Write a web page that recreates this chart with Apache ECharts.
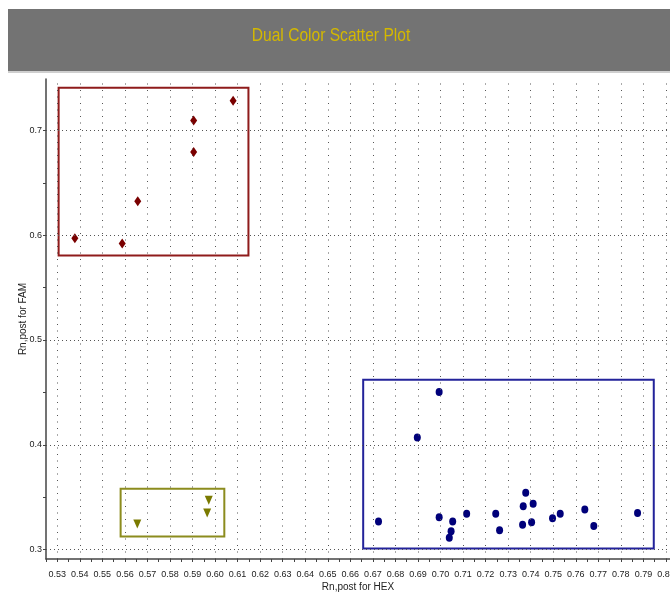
<!DOCTYPE html>
<html>
<head>
<meta charset="utf-8">
<script src="https://cdn.jsdelivr.net/npm/echarts@6/dist/echarts.min.js"></script>
<style>
  html, body { margin: 0; padding: 0; background: #ffffff; overflow: hidden; }
  #chart { width: 670px; height: 610px; }
</style>
</head>
<body>
<div id="chart"></div>
<script>
// Rn,post values for each dye pair
const famGroupHex = [0.5378, 0.5588, 0.5657, 0.5905, 0.5905, 0.6080];
const famGroupFam = [0.5971, 0.5921, 0.6324, 0.6794, 0.7095, 0.7283];

const mixGroupHex = [0.5655, 0.5965, 0.5972];
const mixGroupFam = [0.3245, 0.3350, 0.3470];

const hexGroupHex = [0.6994, 0.6897, 0.6725, 0.6994, 0.7054, 0.7047, 0.7039, 0.7116, 0.7245, 0.7262,
                     0.7378, 0.7367, 0.7364, 0.7411, 0.7404, 0.7497, 0.7531, 0.7640, 0.7680, 0.7874];
const hexGroupFam = [0.4503, 0.4070, 0.3267, 0.3308, 0.3267, 0.3175, 0.3112, 0.3341, 0.3341, 0.3184,
                     0.3541, 0.3413, 0.3236, 0.3436, 0.3260, 0.3299, 0.3341, 0.3382, 0.3226, 0.3350];

// Cluster outlines: [hexMin, famMin, hexMax, famMax]
const famCluster = [0.5306, 0.5806, 0.6148, 0.7407];
const mixCluster = [0.5581, 0.3124, 0.6041, 0.3580];
const hexCluster = [0.6657, 0.3010, 0.7946, 0.4620];

// Axis ticks and labels
const xTickLabels = ['0.53','0.54','0.55','0.56','0.57','0.58','0.59','0.60','0.61','0.62','0.63','0.64','0.65','0.66',
                     '0.67','0.68','0.69','0.70','0.71','0.72','0.73','0.74','0.75','0.76','0.77','0.78','0.79','0.80'];
const yTickLabels = ['0.3','0.4','0.5','0.6','0.7'];
const yTickMarks = [0.30, 0.35, 0.40, 0.45, 0.50, 0.55, 0.60, 0.65, 0.70];

const xRange = [0.525, 0.8018];
const yRange = [0.291, 0.749];

const xGrid = xTickLabels.map(Number);
const yGrid = yTickLabels.map(Number);
// a tick on every label and one halfway before it
const xTickMarks = xGrid.flatMap(v => [+(v - 0.005).toFixed(3), v]);

const labelFont = "'Liberation Sans', Arial, sans-serif";

function pairs(xs, ys) { return xs.map((x, i) => [x, ys[i]]); }
function outline(box, color) {
  return {
    silent: true,
    itemStyle: { color: 'rgba(0,0,0,0)', borderColor: color, borderWidth: 2 },
    label: { show: false },
    emphasis: { disabled: true },
    data: [[{ coord: [box[0], box[3]] }, { coord: [box[2], box[1]] }]]
  };
}

const chart = echarts.init(document.getElementById('chart'), null, { renderer: 'canvas' });

chart.setOption({
  animation: false,
  backgroundColor: '#ffffff',
  graphic: [
    { type: 'rect', left: 8, top: 9, shape: { width: 662, height: 62 }, style: { fill: '#737373' }, z: 0 },
    { type: 'rect', left: 8, top: 71, shape: { width: 662, height: 2 }, style: { fill: '#cfcfcf' }, z: 0 },
    {
      // narrow header caption
      type: 'text',
      x: 331,
      y: 36,
      scaleX: 0.82,
      z: 2,
      style: {
        text: 'Dual Color Scatter Plot',
        fill: '#d4b800',
        font: "19px 'Liberation Sans', Arial, sans-serif",
        align: 'center',
        verticalAlign: 'middle'
      }
    }
  ],
  grid: { left: 46, right: 0, top: 79, bottom: 51, outerBoundsMode: 'none', containLabel: false },
  xAxis: {
    type: 'value',
    min: xRange[0],
    max: xRange[1],
    name: 'Rn,post for HEX',
    nameLocation: 'middle',
    nameGap: 23,
    nameMoveOverlap: false,
    nameTextStyle: { color: '#222', fontFamily: labelFont, fontSize: 10 },
    axisLine: { show: true, lineStyle: { color: '#444', width: 1.5 } },
    axisTick: { show: true, inside: false, length: 3, customValues: xTickMarks, lineStyle: { color: '#444' } },
    axisLabel: {
      customValues: xGrid,
      formatter: v => v.toFixed(2),
      color: '#222', fontFamily: labelFont, fontSize: 9, margin: 11
    },
    splitLine: { show: false }
  },
  yAxis: {
    type: 'value',
    min: yRange[0],
    max: yRange[1],
    name: 'Rn,post for FAM',
    nameLocation: 'middle',
    nameGap: 18,
    nameMoveOverlap: false,
    nameTextStyle: { color: '#222', fontFamily: labelFont, fontSize: 10 },
    axisLine: { show: true, lineStyle: { color: '#444', width: 1.5 } },
    axisTick: { show: true, inside: false, length: 3, customValues: yTickMarks, lineStyle: { color: '#444' } },
    axisLabel: {
      customValues: yGrid,
      formatter: v => v.toFixed(1),
      color: '#222', fontFamily: labelFont, fontSize: 9, margin: 4
    },
    splitLine: { show: false }
  },
  series: [
    {
      // dotted reference grid
      type: 'scatter',
      data: [],
      silent: true,
      z: 1,
      markLine: {
        silent: true,
        symbol: 'none',
        animation: false,
        label: { show: false },
        emphasis: { disabled: true },
        data: xGrid.map(v => ({ xAxis: v, lineStyle: { color: '#555', width: 1, type: [1, 5.5] } }))
          .concat(yGrid.map(v => ({ yAxis: v, lineStyle: { color: '#555', width: 1, type: [1, 3] } })))
      }
    },
    {
      name: 'FAM',
      type: 'scatter',
      data: pairs(famGroupHex, famGroupFam),
      symbol: 'diamond',
      symbolSize: [7, 10],
      itemStyle: { color: '#7a0000', opacity: 1 },
      z: 3,
      markArea: outline(famCluster, '#8f1b1b')
    },
    {
      name: 'FAM+HEX',
      type: 'scatter',
      data: pairs(mixGroupHex, mixGroupFam),
      symbol: 'triangle',
      symbolRotate: 180,
      symbolSize: [8, 9],
      itemStyle: { color: '#7a7a00', opacity: 1 },
      z: 3,
      markArea: outline(mixCluster, '#8c8c1e')
    },
    {
      name: 'HEX',
      type: 'scatter',
      data: pairs(hexGroupHex, hexGroupFam),
      symbol: 'circle',
      symbolSize: [7, 8],
      itemStyle: { color: '#00007a', opacity: 1 },
      z: 3,
      markArea: outline(hexCluster, '#23239a')
    }
  ]
});
</script>
</body>
</html>
